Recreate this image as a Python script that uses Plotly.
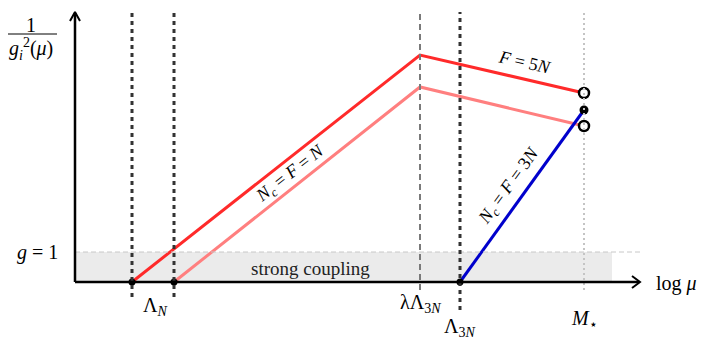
import plotly.graph_objects as go

# schematic coordinates: x = log mu, y = 1/g^2 (arbitrary units, origin at axes corner)
x_scales = [57, 99, 345, 385, 509]          # Lambda_N (two), lambda*Lambda_3N, Lambda_3N, M_star
scale_labels = ['Λ<sub><i>N</i></sub>', 'λΛ<sub>3<i>N</i></sub>', 'Λ<sub>3<i>N</i></sub>', '<i>M</i><sub>⋆</sub>']
g_one = 30
x_end = 565
y_top = 270

red_x = [57, 345, 509]
red_y = [0, 227, 189]
pink_x = [99, 345, 509]
pink_y = [0, 195, 156]
blue_x = [385, 509]
blue_y = [0, 172]

SERIF = 'Liberation Serif'
fig = go.Figure()

# strong coupling band
fig.add_shape(type='rect', x0=0, x1=537, y0=0, y1=g_one, fillcolor='#ebebeb', line_width=0, layer='below')
fig.add_shape(type='line', x0=0, x1=x_end, y0=g_one, y1=g_one, line=dict(color='#c8c8c8', width=1, dash='5px,3px'))

# vertical scale lines
vstyle = [
    (x_scales[0], -15, dict(color='#333333', width=3, dash='4px,4px')),
    (x_scales[1], -15, dict(color='#333333', width=3, dash='4px,4px')),
    (x_scales[2], -8, dict(color='#7a7a7a', width=2, dash='6px,4px')),
    (x_scales[3], -28, dict(color='#333333', width=3, dash='4px,4px')),
    (x_scales[4], -8, dict(color='#c4c4c4', width=2, dash='2px,3px')),
]
for xv, yb, ln in vstyle:
    fig.add_shape(type='line', x0=xv, x1=xv, y0=yb, y1=y_top, line=ln)

# axes
fig.add_shape(type='line', x0=0, x1=x_end - 1, y0=0, y1=0, line=dict(color='black', width=2.5))
fig.add_shape(type='line', x0=0, x1=0, y0=0, y1=y_top - 1, line=dict(color='black', width=2.5))
fig.add_trace(go.Scatter(x=[x_end - 8, x_end, x_end - 8], y=[6, 0, -6], mode='lines',
                         line=dict(color='black', width=2), showlegend=False, hoverinfo='skip'))
fig.add_trace(go.Scatter(x=[-5, 0, 5], y=[y_top - 9, y_top, y_top - 9], mode='lines',
                         line=dict(color='black', width=2), showlegend=False, hoverinfo='skip'))

# running couplings
fig.add_trace(go.Scatter(x=pink_x, y=pink_y, mode='lines', line=dict(color='#ff7f7f', width=3), showlegend=False))
fig.add_trace(go.Scatter(x=red_x, y=red_y, mode='lines', line=dict(color='#ff2a2a', width=3), showlegend=False))
fig.add_trace(go.Scatter(x=blue_x, y=blue_y, mode='lines', line=dict(color='#0000cc', width=3), showlegend=False))

# points
fig.add_trace(go.Scatter(x=[red_x[0], pink_x[0], blue_x[0]], y=[0, 0, 0], mode='markers',
                         marker=dict(color='black', size=7), showlegend=False))
fig.add_trace(go.Scatter(x=[blue_x[-1]], y=[blue_y[-1]], mode='markers',
                         marker=dict(color='black', size=9), showlegend=False))
fig.add_trace(go.Scatter(x=[red_x[-1], pink_x[-1]], y=[red_y[-1], pink_y[-1]], mode='markers',
                         marker=dict(color='white', size=10, line=dict(color='black', width=2.5)), showlegend=False))

# labels
font = dict(family=SERIF, size=20, color='black')
rfont = dict(family=SERIF, size=18, color='black')
fig.add_annotation(x=80, y=-24, text=scale_labels[0], showarrow=False, font=font)
fig.add_annotation(x=x_scales[2], y=-21, text=scale_labels[1], showarrow=False, font=font)
fig.add_annotation(x=x_scales[3], y=-45, text=scale_labels[2], showarrow=False, font=font)
fig.add_annotation(x=x_scales[4], y=-37, text=scale_labels[3], showarrow=False, font=font)
fig.add_annotation(x=x_end + 36, y=-1, text='log <i>μ</i>', showarrow=False, font=font, xanchor='center')
fig.add_annotation(x=-38, y=g_one, text='<i>g</i> = 1', showarrow=False, font=font)
fig.add_annotation(x=235, y=14, text='strong coupling', showarrow=False, font=dict(family=SERIF, size=19, color='#222'))

fig.add_annotation(x=-44, y=257, text='1', showarrow=False, font=font)
fig.add_shape(type='line', x0=-69, x1=-18, y0=248, y1=248, line=dict(color='black', width=1))
fig.add_annotation(x=-44, y=233, text='<i>g</i><sub><i>i</i></sub><sup>2</sup>(<i>μ</i>)', showarrow=False, font=font)

fig.add_annotation(x=449, y=220, text='<i>F</i> = 5<i>N</i>', showarrow=False, textangle=13, font=rfont)
fig.add_annotation(x=215, y=108, text='<i>N</i><sub><i>c</i></sub> = <i>F</i> = <i>N</i>', showarrow=False,
                   textangle=-38, font=rfont)
fig.add_annotation(x=434, y=96, text='<i>N</i><sub><i>c</i></sub> = <i>F</i> = 3<i>N</i>', showarrow=False,
                   textangle=-54, font=rfont)

# the page body has an 8px margin, so the figure is 8px smaller and the ranges shifted to match
fig.update_layout(width=698, height=335, margin=dict(l=0, r=0, t=0, b=0),
                  plot_bgcolor='white', paper_bgcolor='white',
                  xaxis=dict(range=[-67, 631], visible=False, fixedrange=True),
                  yaxis=dict(range=[-61, 274], visible=False, fixedrange=True))

fig.write_html("out.html")
